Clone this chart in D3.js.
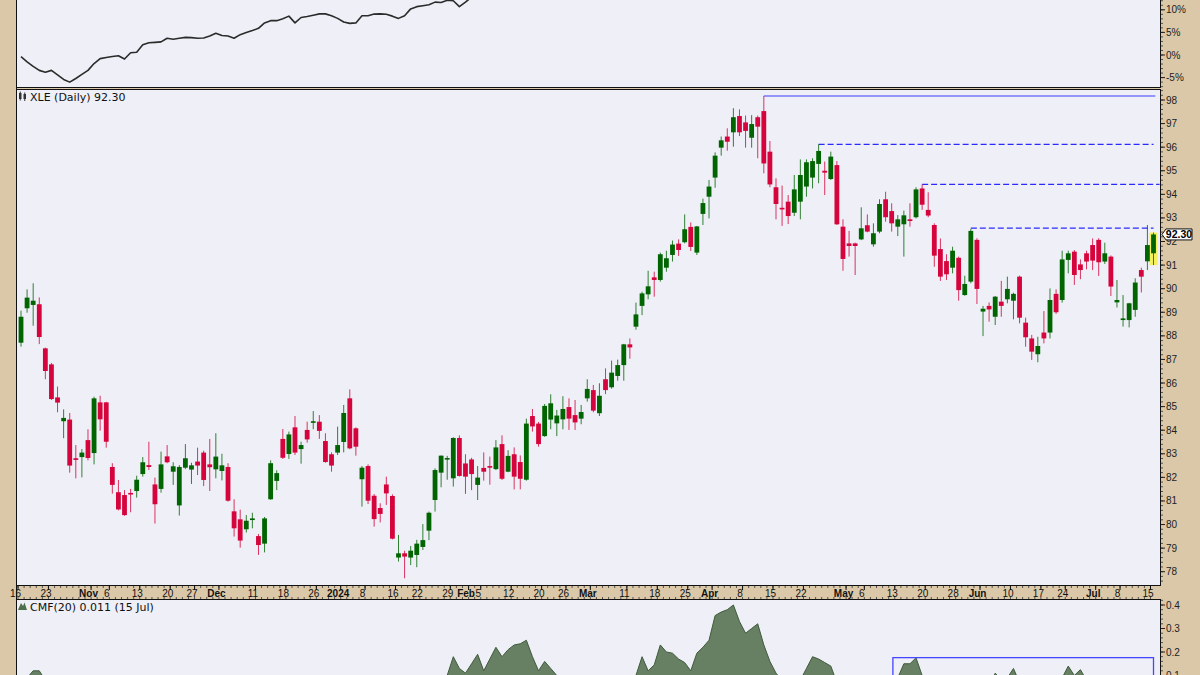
<!DOCTYPE html>
<html><head><meta charset="utf-8">
<script src="https://cdn.jsdelivr.net/npm/d3@7/dist/d3.min.js"></script>
<style>
html,body{margin:0;padding:0;background:#dbc8a8;}
svg{display:block;}
</style>
</head><body>
<svg id="chart" width="1200" height="675"></svg>
<script>
// ---------------- DATA ----------------
const opens = [87.71,89.17,89.31,89.34,87.47,86.79,85.39,84.38,84.45,82.81,82.86,83.58,83.03,85.18,85.18,82.44,81.37,81.25,81.34,81.42,
82.14,82.52,81.70,81.51,82.89,82.24,80.81,82.41,82.33,82.67,83.05,82.55,82.34,82.27,82.44,80.56,80.22,79.80,80.19,79.51,
79.19,81.07,81.85,83.63,82.99,84.12,83.20,84.01,84.32,84.36,83.54,82.98,83.05,83.50,85.35,84.08,81.92,82.48,81.22,80.70,
81.70,81.21,78.60,78.78,78.60,78.71,79.05,79.74,81.04,82.20,82.78,81.96,83.67,82.59,82.76,81.68,82.40,82.48,82.35,83.41,
82.24,82.98,82.65,81.90,84.60,84.28,83.75,84.45,84.29,84.46,84.98,84.64,84.49,85.35,85.70,84.72,86.16,85.82,86.30,86.76,
87.64,88.39,89.27,89.76,90.48,90.37,90.89,91.43,91.91,91.97,92.62,91.53,93.17,93.90,94.71,95.98,96.45,96.63,97.32,97.05,
96.40,97.27,97.53,95.81,94.30,93.43,93.69,93.22,93.69,94.33,94.71,95.29,95.00,94.65,95.24,92.63,91.92,91.92,92.09,92.69,
91.88,92.42,93.79,93.29,92.63,92.73,92.94,93.03,94.25,93.34,92.70,91.68,91.17,90.89,91.31,89.73,90.30,92.07,89.03,89.27,
88.81,89.45,89.55,89.49,90.51,88.56,87.89,87.22,88.14,88.14,89.78,89.52,91.22,91.57,91.03,91.50,91.85,92.07,91.15,91.36,
89.42,88.67,88.67,89.10,90.79,91.16,91.50];
const highs = [89.07,89.97,90.23,89.63,87.50,86.85,85.85,84.88,84.73,83.37,83.20,84.04,85.42,85.46,85.20,82.60,81.89,81.46,81.51,82.07,
82.86,83.51,81.99,83.09,83.37,82.64,82.52,83.41,82.62,83.26,83.13,83.63,83.87,83.00,82.60,81.07,80.63,80.40,80.50,79.60,
80.32,82.72,82.30,84.05,83.94,84.60,83.51,84.36,84.81,84.64,83.87,83.06,84.15,85.07,85.73,84.12,82.48,82.55,81.29,80.90,
82.03,81.28,79.56,78.89,79.09,79.35,80.02,80.55,82.38,82.93,82.91,83.70,83.78,82.98,82.83,82.48,83.06,82.88,83.58,83.78,
83.15,83.27,82.93,84.49,84.90,84.35,85.11,85.52,84.86,85.44,85.35,85.28,85.07,86.16,85.92,85.99,86.62,86.95,86.99,87.66,
87.89,89.41,89.87,90.76,90.72,91.53,91.61,92.04,92.09,93.15,92.81,92.66,93.82,94.61,95.78,96.45,96.80,97.65,97.60,97.34,
97.36,97.34,98.17,96.26,94.68,94.37,93.97,94.82,95.48,95.48,95.53,96.12,95.39,95.81,95.41,92.94,92.45,91.95,93.45,93.15,
92.77,93.79,94.11,93.62,93.12,93.31,93.62,94.30,94.42,94.09,92.77,92.13,91.46,91.78,91.36,90.55,92.54,92.14,89.27,89.42,
89.69,90.33,90.51,89.83,90.55,88.77,88.04,87.96,89.05,90.01,89.97,91.61,91.61,91.64,91.24,91.61,92.13,92.14,91.95,91.41,
90.37,89.73,89.40,90.44,90.89,92.70,92.38];
const lows = [87.54,88.98,88.43,87.65,86.16,85.28,84.76,83.66,82.20,81.96,82.00,82.72,82.55,83.98,83.26,81.31,80.60,80.37,80.52,81.14,
82.03,82.31,80.04,81.35,82.60,81.68,80.38,82.35,81.72,82.10,81.63,81.42,81.96,81.87,80.97,79.49,79.02,79.66,79.84,78.71,
78.82,81.05,81.46,82.78,82.78,82.95,82.58,83.47,84.04,83.63,82.62,82.24,82.95,83.06,83.19,82.92,80.76,80.87,79.91,80.09,
80.83,79.37,78.43,77.72,78.28,78.19,78.92,79.34,80.55,81.58,81.90,81.61,82.03,81.30,81.46,81.04,81.86,81.69,82.31,81.89,
82.22,81.49,81.49,81.86,83.94,83.30,83.72,84.04,83.75,84.04,84.01,84.01,84.25,85.21,84.76,84.60,85.53,85.76,86.10,86.10,
87.03,88.26,88.88,89.55,89.66,90.30,90.72,91.15,91.39,91.92,91.60,91.43,92.70,92.98,94.28,95.64,95.85,96.02,96.47,95.98,
95.98,95.53,94.89,94.30,92.94,92.66,92.74,93.08,92.94,93.90,94.25,94.47,93.97,94.61,92.70,90.76,91.36,90.58,92.06,92.39,
91.78,92.35,92.84,92.42,92.23,91.36,92.63,92.98,93.34,93.03,90.93,90.33,90.37,90.65,89.49,89.70,90.23,89.35,87.99,88.60,
88.46,88.81,89.38,88.70,88.53,87.54,86.98,86.88,87.68,87.89,88.93,89.41,90.65,90.16,90.40,90.82,90.79,90.54,91.05,89.69,
89.20,88.39,88.36,88.81,89.84,90.79,91.00];
const closes = [88.81,89.62,89.49,87.95,86.51,85.32,85.17,84.52,82.50,82.74,83.05,82.82,85.35,84.46,83.51,81.68,80.64,80.40,81.29,81.90,
82.64,82.44,80.86,82.55,82.64,82.47,82.44,82.81,82.51,82.50,81.89,82.43,82.88,82.51,81.01,79.84,79.32,80.16,80.26,79.13,
80.26,82.60,82.18,82.83,83.82,83.05,83.37,83.61,84.38,83.97,82.65,82.50,83.37,84.73,83.23,83.30,82.41,81.01,80.23,80.45,
81.32,79.40,78.78,78.64,78.89,79.19,79.34,80.50,82.31,82.92,82.82,83.67,82.06,82.03,82.14,81.99,82.24,82.41,83.27,81.94,
82.91,82.03,81.94,84.28,84.16,83.41,85.03,85.14,84.62,84.90,84.49,84.33,84.77,85.75,84.83,85.46,85.70,86.44,86.76,87.64,
87.51,88.91,89.80,90.10,90.37,91.46,91.29,91.87,91.64,92.52,91.77,92.64,93.63,94.33,95.64,96.29,96.23,97.27,96.63,96.69,
96.98,96.87,95.31,94.42,93.59,93.36,93.08,94.21,94.82,95.36,95.41,95.84,94.92,95.60,92.73,91.26,91.81,91.81,92.56,92.42,
92.35,93.59,93.03,92.77,92.94,93.11,92.87,94.21,93.56,93.10,91.40,90.51,90.61,91.61,89.94,90.20,92.45,89.99,89.15,89.12,
89.66,89.27,89.99,89.78,88.77,87.94,87.33,87.57,87.89,89.52,89.00,91.24,91.50,90.58,90.79,91.15,91.19,91.12,91.50,90.09,
89.52,88.74,89.38,90.26,90.51,91.85,92.30];

// relative performance line of the upper panel (%), from Oct 16 onward (rest runs above the visible area)
const relPerf = [-0.38,-1.5,-2.5,-3.4,-3.8,-3.4,-4.4,-5.4,-6.0,-5.2,-4.3,-3.4,-1.9,-0.8,-0.55,-0.35,-0.15,-0.9,0.5,0.6,
2.25,2.7,2.8,2.9,3.7,3.5,3.7,3.9,3.85,3.7,3.75,4.2,4.8,4.3,4.2,3.7,4.5,5.0,5.4,5.9,
7.1,7.6,7.6,8.0,8.6,7.1,8.3,8.5,8.8,9.1,9.1,8.7,8.1,7.3,7.0,7.1,8.7,8.7,9.05,9.1,
9.0,8.6,8.1,8.7,10.2,10.7,10.9,11.1,11.7,11.6,12.1,12.0,10.7,11.7,12.8,13.5];

// Chaikin Money Flow (20)
const cmf = [0.08,0.09,0.12,0.12,0.08,0.04,0.01,-0.03,-0.06,-0.08,-0.10,-0.09,-0.07,-0.09,-0.11,-0.14,-0.17,-0.19,-0.18,-0.16,
-0.14,-0.12,-0.15,-0.13,-0.12,-0.11,-0.09,-0.08,-0.09,-0.08,-0.10,-0.09,-0.07,-0.08,-0.11,-0.14,-0.17,-0.16,-0.15,-0.18,
-0.15,-0.08,-0.06,-0.04,-0.02,-0.04,-0.03,-0.02,0.00,-0.01,-0.03,-0.05,-0.04,-0.02,-0.05,-0.06,-0.09,-0.11,-0.13,-0.12,
-0.11,-0.14,-0.12,-0.13,-0.10,-0.07,-0.04,0.00,0.05,0.08,0.10,0.18,0.13,0.11,0.15,0.19,0.12,0.17,0.22,0.18,
0.21,0.23,0.235,0.25,0.18,0.12,0.16,0.13,0.10,0.07,0.05,0.04,0.06,0.07,0.03,0.04,0.05,0.06,0.05,0.07,
0.08,0.10,0.18,0.12,0.145,0.23,0.20,0.195,0.17,0.155,0.12,0.195,0.22,0.25,0.355,0.37,0.38,0.40,0.33,0.28,
0.30,0.32,0.23,0.16,0.11,0.08,0.06,0.05,0.08,0.13,0.18,0.17,0.155,0.14,0.07,0.03,0.02,0.01,0.03,0.04,
0.03,0.05,0.06,0.07,0.09,0.15,0.15,0.175,0.10,0.05,0.02,-0.01,0.00,0.03,0.01,0.02,0.06,0.04,0.02,0.05,
0.11,0.08,0.09,0.13,0.07,0.03,0.01,0.02,0.04,0.06,0.05,0.09,0.14,0.10,0.125,0.08,0.06,0.07,0.05,0.02,
0.00,-0.02,-0.01,0.01,0.00,0.02,0.011];

// date axis labels: [trading-day index, text, bold]
const dateTicks = [[0,"16",0],[5,"23",0],[12,"Nov",1],[15,"6",0],[20,"13",0],[25,"20",0],[29,"27",0],[33,"Dec",1],
[39,"11",0],[44,"18",0],[49,"26",0],[53,"2024",1],[57,"8",0],[62,"16",0],[66,"22",0],[71,"29",0],[74,"Feb",1],[76,"5",0],
[81,"12",0],[86,"20",0],[90,"26",0],[94,"Mar",1],[100,"11",0],[105,"18",0],[110,"25",0],[114,"Apr",1],[119,"8",0],
[124,"15",0],[129,"22",0],[136,"May",1],[139,"6",0],[144,"13",0],[149,"20",0],[154,"28",0],[158,"Jun",1],[163,"10",0],
[168,"17",0],[172,"24",0],[177,"Jul",1],[181,"8",0],[186,"15",0]];
const priceTicks = [78,79,80,81,82,83,84,85,86,87,88,89,90,91,92,93,94,95,96,97,98];
const pctTicks = [-5,0,5,10];
const cmfTicks = [0.1,0.2,0.3,0.4];
// resistance lines: [from index, to index, price, dashed]
const levels = [[122,186.3,98.17,0],[131,186.0,96.12,1],[148,187.0,94.42,1],[156,186.0,92.57,1]];
// CMF annotation box: [from index, to index, top value]
const cmfBox = [143.2,186.0,0.176];
const lastClose = 92.30;

// ---------------- LAYOUT ----------------
const svg = d3.select("#chart");
const BEIGE = "#dbc8a8", BG = "#eeeff7";
const UP = "#006400", DN = "#d6043c";
const L = 16, R = 1161;
const P1 = {y0:-5, y1:88}, P2 = {y0:89, y1:586}, P3 = {y0:599, y1:700};
const FONT = "'Liberation Sans', Arial, sans-serif";
const FONT2 = "'DejaVu Sans', Verdana, sans-serif";

const x = d3.scaleLinear().domain([0,186]).range([21,1153.5]);
const y = d3.scaleLinear().domain([78,98]).range([571.7,100]);
const yp = d3.scaleLinear().domain([0,10]).range([55,9.8]);
const yc = d3.scaleLinear().domain([0,0.4]).range([699,605]);

svg.append("rect").attr("width",1200).attr("height",675).attr("fill",BEIGE);

const defs = svg.append("defs");
[["c1",P1],["c2",P2],["c3",P3]].forEach(([id,p])=>{
  defs.append("clipPath").attr("id",id).append("rect").attr("x",L).attr("y",p.y0).attr("width",R-L).attr("height",p.y1-p.y0);
});
[P1,P2,P3].forEach(p=>{
  svg.append("rect").attr("x",L).attr("y",p.y0).attr("width",R-L).attr("height",p.y1-p.y0).attr("fill",BG);
});

// ---------- top panel ----------
const g1 = svg.append("g").attr("clip-path","url(#c1)");
g1.append("path").datum(relPerf)
  .attr("d", d3.line().x((d,i)=>x(i)).y(d=>yp(d)))
  .attr("fill","none").attr("stroke","#2b2b2b").attr("stroke-width",1.6).attr("stroke-linejoin","round");

// ---------- main panel ----------
const g2 = svg.append("g").attr("clip-path","url(#c2)");
// highlight of last bar
const li = closes.length-1;
g2.append("rect").attr("x",x(li)-4).attr("y",y(highs[li])).attr("width",8)
  .attr("height",y(lows[li])-y(highs[li])).attr("fill","#f4f25c");
// levels
levels.forEach(([a,b,p,d])=>{
  g2.append("line").attr("x1",x(a)).attr("x2",x(b)).attr("y1",y(p)).attr("y2",y(p))
    .attr("stroke", d? "#2a2aff":"#3a3aff").attr("stroke-width",1.2)
    .attr("stroke-dasharray", d? "6,3":null);
});
// candles
const idx = d3.range(closes.length);
const cg = g2.append("g");
cg.selectAll("line.w").data(idx).join("line").attr("class","w")
  .attr("x1",i=>x(i)).attr("x2",i=>x(i)).attr("y1",i=>y(highs[i])).attr("y2",i=>y(lows[i]))
  .attr("stroke",i=>closes[i]>=opens[i]?UP:DN).attr("stroke-width",1).attr("stroke-opacity",0.8);
cg.selectAll("rect.b").data(idx).join("rect").attr("class","b")
  .attr("x",i=>x(i)-2.4).attr("width",4.8)
  .attr("y",i=>y(Math.max(opens[i],closes[i])))
  .attr("height",i=>Math.max(1.6, Math.abs(y(opens[i])-y(closes[i]))))
  .attr("fill",i=>closes[i]>=opens[i]?UP:DN);

// legend
const lg = svg.append("g");
lg.append("rect").attr("x",19).attr("y",93).attr("width",2.5).attr("height",6).attr("fill","#333");
lg.append("line").attr("x1",20.25).attr("x2",20.25).attr("y1",91.5).attr("y2",100.5).attr("stroke","#333");
lg.append("rect").attr("x",23.5).attr("y",94).attr("width",2.5).attr("height",5).attr("fill","#333");
lg.append("line").attr("x1",24.75).attr("x2",24.75).attr("y1",92.5).attr("y2",101).attr("stroke","#333");
lg.append("text").attr("x",30).attr("y",101).attr("font-family",FONT2).attr("font-size",11).attr("fill","#111")
  .text("XLE (Daily) " + lastClose.toFixed(2));

// ---------- CMF panel ----------
const g3 = svg.append("g").attr("clip-path","url(#c3)");
g3.append("path").datum(cmf)
  .attr("d", d3.area().x((d,i)=>x(i)).y0(yc(0)).y1(d=>yc(d)))
  .attr("fill","#677f63").attr("stroke","#3f5a3c").attr("stroke-width",1);
g3.append("rect").attr("x",x(cmfBox[0])).attr("y",yc(cmfBox[2])).attr("width",x(cmfBox[1])-x(cmfBox[0]))
  .attr("height",100).attr("fill","none").attr("stroke","#4646ff").attr("stroke-width",1.3);
svg.append("path").attr("d","M18,610 L21,603 L23,606 L24.5,602.5 L27,610 Z").attr("fill","#4f6e4c");
svg.append("text").attr("x",30).attr("y",610.5).attr("font-family",FONT2).attr("font-size",11).attr("fill","#111")
  .text("CMF(20) " + cmf[cmf.length-1].toFixed(3) + " (15 Jul)");

// ---------- panel borders ----------
[P1,P2,P3].forEach(p=>{
  svg.append("rect").attr("x",L+0.5).attr("y",p.y0+0.5).attr("width",R-L-1).attr("height",p.y1-p.y0-1)
    .attr("fill","none").attr("stroke","#111").attr("stroke-width",1);
});

// ---------- right axes ----------
const ax = svg.append("g").attr("font-family",FONT).attr("font-size",10).attr("fill","#222");
function rightAxis(scale, lo, hi, minorStep, majors, fmt, y0, y1){
  d3.range(lo, hi+1e-9, minorStep).forEach(v=>{
    const yy = scale(v); if(yy<y0||yy>y1) return;
    ax.append("line").attr("x1",R).attr("x2",R+2).attr("y1",yy).attr("y2",yy).attr("stroke","#333").attr("stroke-width",0.8);
  });
  majors.forEach(v=>{
    const yy = scale(v);
    ax.append("line").attr("x1",R).attr("x2",R+4).attr("y1",yy).attr("y2",yy).attr("stroke","#222");
    ax.append("text").attr("x",R+5).attr("y",yy).attr("dy","0.35em").text(fmt(v));
  });
}
rightAxis(y, 77.6, 98.6, 0.2, priceTicks, d=>d, 89, 586);
rightAxis(yp, -7, 12, 1, pctTicks, d=>d+"%", 0, 88);
rightAxis(yc, 0.06, 0.42, 0.02, cmfTicks, d=>d.toFixed(1), 599, 675);

// last price tag
const yl = y(lastClose);
svg.append("path").attr("d",`M${R+1},${yl} L${R+5},${yl-5.5} H${R+31} V${yl+5.5} H${R+5} Z`)
  .attr("fill","#fff").attr("stroke","#111").attr("stroke-width",1);
svg.append("text").attr("x",R+18).attr("y",yl).attr("dy","0.36em").attr("text-anchor","middle")
  .attr("font-family",FONT).attr("font-weight","bold").attr("font-size",10.5).attr("fill","#000").text(lastClose.toFixed(2));

// ---------- date axis ----------
const dg = svg.append("g");
idx.forEach(i=>{
  const xx = x(i)-3;
  dg.append("line").attr("x1",xx).attr("x2",xx).attr("y1",P2.y1).attr("y2",P2.y1+2).attr("stroke","#333").attr("stroke-width",0.8);
  dg.append("line").attr("x1",xx).attr("x2",xx).attr("y1",P3.y0-2).attr("y2",P3.y0).attr("stroke","#333").attr("stroke-width",0.8);
});
dateTicks.forEach(([i,t,b])=>{
  const xx = x(i)-3;
  dg.append("line").attr("x1",xx).attr("x2",xx).attr("y1",P2.y1).attr("y2",P2.y1+4).attr("stroke","#111");
  dg.append("text").attr("x",x(i)-5.5).attr("y",597).attr("text-anchor","middle")
    .attr("font-family",FONT).attr("font-size",10).attr("font-weight",b?"bold":"normal").attr("fill","#111").text(t);
});
// left edge line
svg.append("line").attr("x1",L+0.5).attr("x2",L+0.5).attr("y1",0).attr("y2",675).attr("stroke","#111");
</script>
</body></html>
